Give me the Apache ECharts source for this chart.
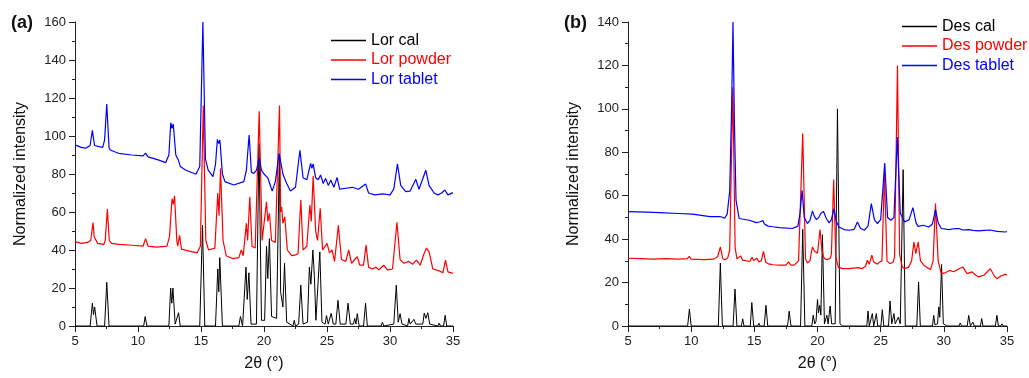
<!DOCTYPE html>
<html lang="en">
<head>
<meta charset="UTF-8">
<title>XRD patterns</title>
<script src="https://cdn.jsdelivr.net/npm/echarts@6.0.0/dist/echarts.min.js"></script>
<style>
    html, body { margin: 0; padding: 0; background: #fff; }
    #main { width: 1029px; height: 378px; }
</style>
</head>
<body>
<div id="main"></div>
<script>
// panel (a) - loratadine
var lorNames = ['Lor cal', 'Lor powder', 'Lor tablet'];
var lorCal = [[5,0],[6.2,0],[6.38,12],[6.47,6],[6.56,10],[6.75,0],[7.35,0],[7.52,23],[7.7,0],[10.45,0],[10.57,5],[10.7,0],[12.45,0],[12.59,20],[12.68,12],[12.77,20],[12.95,1],[13.1,0],[13.22,7],[13.35,0],[14.9,0],[15.12,53],[15.3,0],[16.15,0],[16.33,30],[16.41,18],[16.49,36],[16.7,0],[18.0,0],[18.13,5],[18.3,0],[18.42,1],[18.57,31],[18.67,14],[18.8,28],[18.97,1],[19.4,1],[19.6,96],[19.8,3],[20.05,3],[20.2,42],[20.3,25],[20.43,46],[20.6,5],[21.0,4],[21.22,90],[21.32,18],[21.4,19],[21.5,10],[21.63,33],[21.8,2],[22.3,0],[22.4,3],[22.5,0],[22.75,1],[22.92,21.5],[23.1,1],[23.45,2],[23.6,31],[23.72,22],[23.88,40],[24.0,26],[24.12,3],[24.25,3],[24.43,39],[24.6,2],[24.85,1],[24.96,5.5],[25.1,1],[25.2,1],[25.33,6.7],[25.5,1],[25.7,1],[25.87,13.5],[26.05,1],[26.5,1],[26.67,12],[26.85,1],[27.1,1],[27.2,4],[27.3,1],[27.4,6.5],[27.55,0],[27.9,0],[28.06,12],[28.2,0],[28.7,0],[28.8,1],[28.9,0],[29.3,0],[29.4,2],[29.5,0],[30.3,1],[30.5,21.5],[30.65,2],[30.8,6.5],[30.95,1],[31.4,0],[31.5,4],[31.6,1],[31.9,3.5],[32.05,1],[32.6,1],[32.72,6.8],[32.85,4],[33.0,7],[33.15,1],[33.8,0],[33.9,1.5],[34.0,0],[34.25,0],[34.38,5.6],[34.5,0],[35,0]];
var lorPowder = [[5,44.4],[5.5,43.5],[6.0,44],[6.25,45],[6.43,54.5],[6.52,47],[6.6,48],[6.8,43.5],[7.3,43],[7.4,45],[7.57,61.5],[7.72,45],[7.9,43.5],[8.5,43],[9.5,42.5],[10.4,42],[10.6,46],[10.8,42],[11.5,41.5],[12.3,42],[12.5,47],[12.7,67],[12.8,64],[12.9,68.5],[13.08,45],[13.15,42],[13.3,47.7],[13.45,40.5],[14.0,39.5],[14.7,38.5],[14.95,42],[15.18,116],[15.38,45],[15.6,40],[16.1,41],[16.33,70],[16.43,58],[16.55,83],[16.75,45],[17.0,37],[17.5,35.5],[18.0,36],[18.2,40],[18.35,37],[18.6,54],[18.7,45],[18.87,68],[19.05,42],[19.3,41],[19.62,113],[19.85,45],[20.0,45],[20.2,65.4],[20.3,55],[20.43,59.3],[20.6,45],[20.9,44],[21.23,116],[21.32,60],[21.4,62.8],[21.5,54],[21.65,57.5],[21.85,40],[22.2,37],[22.5,37.4],[22.7,38],[22.92,66.3],[23.1,40],[23.4,42],[23.64,63.7],[23.75,55],[23.9,79],[24.1,50],[24.25,45],[24.46,62],[24.65,40],[25.0,43.5],[25.2,38.5],[25.4,40],[25.6,34],[25.9,53],[26.15,35],[26.5,34],[26.72,40],[26.95,33],[27.2,35],[27.4,36.5],[27.6,32],[27.9,32],[28.1,42.6],[28.3,31],[28.6,30],[28.9,31],[29.1,29.5],[29.5,32],[29.8,29.5],[30.2,30],[30.55,54.6],[30.8,35],[31.1,33],[31.5,34],[31.8,32.5],[32.1,34.7],[32.4,32],[32.7,38],[32.9,41],[33.1,39],[33.4,30],[33.9,29],[34.2,28],[34.4,34.7],[34.6,28.5],[35,27.7]];
var lorTablet = [[5,95.3],[5.5,94],[5.85,93.6],[6.2,95],[6.38,103],[6.55,95],[6.9,94.4],[7.2,94],[7.35,98],[7.52,116.8],[7.7,94],[7.8,92.6],[8.45,90.9],[9.5,90],[10.4,89.5],[10.6,91],[10.8,89],[11.6,87.4],[12.2,86],[12.45,90],[12.6,107],[12.7,104],[12.8,106.3],[13.0,90],[13.2,87.4],[13.35,84],[13.8,82],[14.6,79.9],[14.9,84],[15.15,160],[15.35,88],[15.57,82],[15.95,78.6],[16.15,85],[16.3,98.2],[16.4,96],[16.5,97.9],[16.7,80],[16.9,76],[17.6,74.2],[18.4,76],[18.6,82],[18.82,100.5],[19.0,81],[19.2,80.3],[19.4,82],[19.62,88.2],[19.8,82],[20.0,80],[20.3,78],[20.65,71],[20.9,76],[21.2,90.9],[21.5,80],[21.8,75],[22.1,71],[22.5,73],[22.85,92.5],[23.1,78],[23.4,77],[23.7,85.6],[23.8,83],[23.9,85.3],[24.1,78],[24.3,77],[24.49,79.5],[24.7,75],[24.89,77.7],[25.1,74],[25.3,76.8],[25.55,73],[25.8,78.2],[26.0,72],[26.5,72.5],[27.0,73],[27.5,72],[28.07,74.7],[28.3,70],[28.8,69],[29.4,69.5],[30.0,69],[30.3,72],[30.59,85.3],[30.85,74],[31.25,70.7],[31.6,71],[32.05,77.2],[32.3,72],[32.84,82],[33.1,74],[33.5,70],[33.8,69],[34.1,70],[34.35,71.6],[34.6,69],[35,70.2]];

// panel (b) - desloratadine
var desNames = ['Des cal', 'Des powder', 'Des tablet'];
var desCal = [[5,0],[9.72,0],[9.86,7.8],[10.0,0],[12.15,0],[12.31,29],[12.47,0],[13.32,0],[13.47,17],[13.62,0],[13.98,0],[14.08,3.3],[14.18,0],[14.68,0],[14.8,10.8],[14.95,0],[15.27,0],[15.36,1.3],[15.45,0],[15.78,0],[15.92,9.5],[16.06,0],[17.63,0],[17.76,6.8],[17.9,0],[18.66,0],[18.83,44.5],[19.0,0],[19.55,0],[19.66,5],[19.78,1],[19.88,2],[20.0,12.2],[20.08,6],[20.18,9.5],[20.27,5],[20.39,42],[20.55,1],[20.65,1],[20.74,5],[20.84,1],[20.9,1],[21.0,9.2],[21.12,1],[21.4,1],[21.58,100],[21.78,1],[22.0,0],[23.9,0],[24.0,6.9],[24.1,0],[24.25,0],[24.34,5.7],[24.45,0],[24.56,0],[24.66,5.7],[24.77,0],[25.02,0],[25.13,7.5],[25.25,0],[25.62,0],[25.74,11.5],[25.88,1],[25.95,1],[26.05,5.7],[26.15,1],[26.3,1],[26.4,4.1],[26.55,1],[26.62,1],[26.78,72],[26.95,0],[27.86,0],[28.0,20.3],[28.14,0],[29.1,0],[29.2,4.9],[29.3,0.5],[29.5,1],[29.6,8.8],[29.68,4],[29.82,28.3],[29.96,1],[30.1,1.8],[30.25,0],[31.2,0],[31.3,1.4],[31.4,0],[31.85,0],[31.97,4.9],[32.1,0],[32.2,0],[32.3,1.8],[32.4,0],[32.9,0],[33.0,3.4],[33.1,0],[34.08,0],[34.2,4.9],[34.32,0],[34.5,0],[34.6,1],[34.7,0],[35,0]];
var desPowder = [[5,31.2],[6,31],[7,30.8],[8,31],[9,30.8],[9.7,31],[9.85,32.1],[10.0,30.8],[11,30.6],[11.8,30.8],[12.1,32],[12.31,36.4],[12.5,31],[12.68,30.5],[12.9,31.5],[13.05,35],[13.3,110],[13.48,36],[13.62,31],[13.92,32.3],[14.08,30.2],[14.24,30.2],[14.5,29.8],[14.68,30],[14.82,31.7],[14.95,30.2],[15.1,30.4],[15.2,31.2],[15.35,29.5],[15.55,30],[15.72,34.4],[15.9,29.5],[16.1,28.6],[16.5,28.2],[17,28],[17.5,28],[17.7,29.5],[17.9,28],[18.16,28],[18.5,30],[18.83,88.7],[19.05,31],[19.2,29],[19.4,30],[19.6,36.4],[19.75,34.5],[19.87,35.2],[20.0,33.5],[20.2,44.4],[20.35,35],[20.47,31.8],[20.62,30.8],[20.8,30.6],[21.0,31.2],[21.1,33],[21.28,67.5],[21.45,32],[21.65,27],[22,26.4],[22.5,26.4],[23.2,26.9],[23.5,26.4],[23.8,27.5],[23.95,30.3],[24.1,28.5],[24.3,32.6],[24.45,29.5],[24.6,29],[24.75,28.5],[24.92,29.5],[25.1,30],[25.3,70.2],[25.5,30],[25.74,28.7],[26.0,29.5],[26.1,32],[26.33,120],[26.5,33],[26.7,27.5],[26.85,26.4],[27.2,27],[27.45,30],[27.63,38.7],[27.78,33.3],[27.97,38.7],[28.15,30],[28.42,28],[28.65,27],[28.95,26],[29.15,30],[29.34,56.4],[29.55,30],[29.8,24.1],[30.1,24.5],[30.45,25.6],[30.8,25],[31.2,26.4],[31.35,25.5],[31.5,27.2],[31.84,24.1],[32.24,24.9],[32.5,23.5],[32.76,22.6],[33.2,23.5],[33.68,26.4],[34.0,23],[34.2,21.8],[34.5,23],[34.87,23.8],[35,23.5]];
var desTablet = [[5,52.7],[6.5,52.4],[7.5,52.2],[9,51.8],[10.1,51.5],[11.5,50.4],[12.3,50.4],[12.65,49.6],[12.85,51.5],[13.05,62],[13.2,100],[13.31,140],[13.42,95],[13.55,58],[13.8,49.5],[14.6,48.7],[15.16,47.6],[15.4,47.9],[15.68,48.5],[15.8,47],[16.08,46],[16.45,45.7],[17,45.3],[18.0,44.9],[18.45,46],[18.62,52],[18.78,62.5],[18.95,50],[19.2,47.2],[19.4,48.5],[19.6,53],[19.75,50.5],[19.92,49],[20.1,50],[20.26,51.8],[20.47,52.8],[20.7,49.5],[20.92,47.5],[21.1,49],[21.3,54],[21.5,48],[21.7,45.6],[22.1,44.4],[22.5,44.1],[22.9,44.5],[23.16,47.9],[23.4,45],[23.7,44.1],[24.0,46],[24.26,56.4],[24.5,49],[24.74,47.2],[25.0,49],[25.32,75],[25.55,50],[25.8,48.7],[26.05,50],[26.32,87],[26.55,52],[26.9,47.9],[27.25,49],[27.55,54.5],[27.8,47.5],[27.97,45.9],[28.4,46.4],[28.8,45.6],[29.1,47],[29.34,53.6],[29.55,47.5],[29.8,44.9],[30.4,44.4],[30.8,44.8],[31.2,44.9],[31.5,44.2],[31.97,44.4],[32.3,44],[32.76,43.8],[33.2,44],[33.68,44.2],[34.2,43.6],[34.87,43.3],[35,43.5]];

var font = '"Liberation Sans", Arial, sans-serif';
var colors = ['#000000', '#ff0000', '#0000ff'];
var axisColor = '#222';

function xAxis(i) {
    return {
        type: 'value', gridIndex: i, min: 5, max: 35, interval: 5,
        name: '2θ (°)', nameLocation: 'middle', nameGap: 30,
        nameTextStyle: {fontSize: 16, color: '#111', fontFamily: font},
        axisLine: {show: true, onZero: false, lineStyle: {color: axisColor}},
        axisTick: {show: true, inside: false, length: 6, lineStyle: {color: axisColor}},
        minorTick: {show: true, splitNumber: 2, length: 3, lineStyle: {color: axisColor}},
        axisLabel: {fontSize: 13, color: '#222', margin: 9, fontFamily: font},
        splitLine: {show: false}
    };
}

function yAxis(i, max) {
    return {
        type: 'value', gridIndex: i, min: 0, max: max, interval: 20,
        name: 'Normalized intensity', nameLocation: 'middle', nameGap: 46, nameRotate: 90,
        nameTextStyle: {fontSize: 16, color: '#111', fontFamily: font},
        axisLine: {show: true, lineStyle: {color: axisColor}},
        axisTick: {show: true, inside: false, length: 6, lineStyle: {color: axisColor}},
        minorTick: {show: true, splitNumber: 2, length: 3, lineStyle: {color: axisColor}},
        axisLabel: {fontSize: 13, color: '#222', margin: 9, fontFamily: font},
        splitLine: {show: false}
    };
}

function line(name, data, i, c) {
    return {
        name: name, type: 'line', data: data, xAxisIndex: i, yAxisIndex: i,
        showSymbol: false, symbol: 'none', sampling: null,
        lineStyle: {width: c === 0 ? 1 : 1.2, color: colors[c]},
        itemStyle: {color: colors[c]}
    };
}

function legend(names, left, top) {
    return {
        orient: 'vertical', left: left, top: top, padding: 0, itemGap: 3.5,
        icon: 'rect', itemWidth: 35, itemHeight: 1.3,
        data: names.map(function (n, k) {
            return {name: n, textStyle: {color: colors[k]}};
        }),
        textStyle: {fontSize: 16, fontFamily: font, lineHeight: 16, padding: [0, 0, 0, 0]}
    };
}

var chart = echarts.init(document.getElementById('main'));
chart.setOption({
    animation: false,
    backgroundColor: '#fff',
    title: [
        {text: '(a)', left: 11, top: 14, padding: 0, textStyle: {fontSize: 18, fontWeight: 'bold', color: '#111', fontFamily: font}},
        {text: '(b)', left: 564, top: 14, padding: 0, textStyle: {fontSize: 18, fontWeight: 'bold', color: '#111', fontFamily: font}}
    ],
    legend: [legend(lorNames, 331, 32.5), legend(desNames, 902, 18.5)],
    grid: [
        {left: 75, right: 576, top: 22, bottom: 52, containLabel: false},
        {left: 628, right: 22, top: 22, bottom: 52, containLabel: false}
    ],
    xAxis: [xAxis(0), xAxis(1)],
    yAxis: [yAxis(0, 160), yAxis(1, 140)],
    series: [
        line(lorNames[0], lorCal, 0, 0),
        line(lorNames[1], lorPowder, 0, 1),
        line(lorNames[2], lorTablet, 0, 2),
        line(desNames[0], desCal, 1, 0),
        line(desNames[1], desPowder, 1, 1),
        line(desNames[2], desTablet, 1, 2)
    ]
});
</script>
</body>
</html>
